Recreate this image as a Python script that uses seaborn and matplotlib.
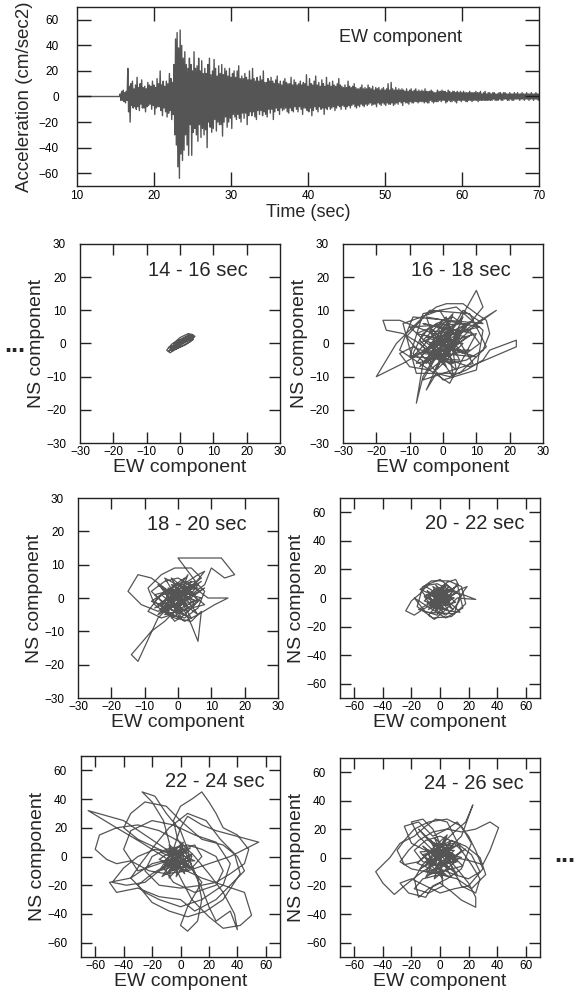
import numpy as np
import pandas as pd
import matplotlib
matplotlib.use('Agg')
import matplotlib.pyplot as plt
import seaborn as sns

# --- EW acceleration record, values every 0.1 s (one row = 1 s) ---
quiet_time = [10.0, 15.5]
onset_time = 15.6
sample_step = 0.1
ew_accel = [
    2, -3, 4, -3, 5, -4, 3, -5, 4, -3,
    22, -12, 8, -20, 10, -7, 12, -9, 6, -8,
    9, -10, 15, -8, 7, -11, 10, -6, 13, -9,
    7, -9, 8, -12, 6, -8, 11, -7, 9, -6,
    8, -10, 12, -7, 9, -14, 7, -9, 14, -8,
    10, -8, 20, -11, 9, -15, 12, -9, 8, -12,
    12, -16, 10, -13, 18, -11, 14, -18, 11, -14,
    25, -30, 45, -38, 50, -55, 38, -64, 52, -45,
    40, -50, 30, -42, 35, -30, 25, -38, 22, -46,
    30, -22, 25, -46, 20, -28, 35, -25, 22, -30,
    24, -35, 30, -22, 20, -32, 28, -25, 18, -30,
    22, -26, 18, -40, 25, -20, 30, -24, 17, -28,
    20, -25, 29, -18, 22, -27, 16, -20, 24, -22,
    18, -22, 25, -31, 17, -20, 22, -16, 20, -24,
    16, -20, 22, -17, 15, -25, 18, -14, 20, -16,
    15, -18, 20, -14, 24, -17, 14, -20, 16, -13,
    14, -17, 18, -13, 15, -22, 13, -15, 20, -12,
    13, -15, 22, -12, 14, -16, 12, -18, 15, -11,
    12, -14, 16, -11, 13, -15, 20, -12, 11, -14,
    11, -16, 14, -10, 12, -13, 15, -10, 12, -18,
    10, -12, 13, -9, 16, -11, 10, -14, 12, -9,
    9, -11, 12, -10, 14, -9, 11, -12, 10, -13,
    10, -9, 15, -11, 9, -12, 13, -8, 11, -10,
    9, -12, 10, -8, 12, -10, 9, -14, 11, -9,
    10, -9, 17, -11, 8, -12, 14, -9, 10, -15,
    9, -11, 12, -8, 16, -10, 9, -12, 11, -8,
    8, -10, 13, -9, 10, -14, 8, -9, 15, -10,
    9, -8, 11, -10, 8, -9, 12, -8, 9, -11,
    8, -9, 10, -7, 14, -8, 9, -10, 8, -7,
    7, -8, 9, -10, 7, -8, 12, -7, 8, -9,
    7, -7, 8, -6, 10, -8, 7, -9, 6, -7,
    6, -8, 7, -6, 9, -7, 6, -8, 7, -6,
    6, -7, 9, -6, 7, -5, 6, -7, 8, -6,
    5, -6, 7, -8, 6, -5, 7, -6, 5, -7,
    6, -5, 7, -6, 5, -7, 6, -5, 10, -6,
    5, -6, 11, -5, 6, -7, 5, -6, 7, -5,
    5, -6, 6, -4, 5, -5, 6, -7, 5, -4,
    4, -5, 6, -5, 4, -6, 5, -4, 6, -5,
    4, -5, 5, -4, 6, -4, 4, -5, 5, -4,
    4, -4, 5, -4, 4, -5, 6, -4, 4, -5,
    4, -5, 4, -3, 5, -4, 4, -5, 3, -4,
    3, -4, 5, -4, 4, -3, 4, -4, 5, -3,
    4, -3, 4, -5, 3, -4, 5, -3, 4, -4,
    3, -4, 4, -3, 4, -4, 3, -5, 4, -3,
    3, -3, 4, -4, 3, -3, 4, -3, 3, -4,
    3, -4, 3, -3, 4, -3, 3, -4, 3, -3,
    3, -3, 4, -3, 3, -4, 3, -3, 4, -3,
    2, -3, 3, -3, 4, -3, 2, -3, 3, -3,
    3, -3, 2, -3, 3, -2, 3, -3, 2, -3,
    2, -3, 3, -2, 3, -3, 2, -3, 3, -2,
    3, -2, 2, -3, 2, -3, 3, -2, 2, -3,
    2, -3, 3, -2, 2, -2, 3, -2, 2, -3,
    2, -2, 3, -2, 2, -3, 2, -2, 3, -2,
    2, -3, 2, -2, 3, -2, 2, -3, 2, -2,
    3, -2, 2, -3, 2,
]
seis_xticks = [10, 20, 30, 40, 50, 60, 70]
seis_yticks = [-60, -40, -20, 0, 20, 40, 60]

# --- particle motion (EW, NS) pairs for each 2 s window ---
pm_14_16 = [(0, 0), (1.5, 1), (3, 2.2), (4, 2.6), (3, 1.5), (1, 0.5), (-1, -0.8), (-2.5, -1.8),
            (-3.5, -2.4), (-2, -1), (0, 0.6), (2, 1.8), (3.5, 2.8), (2.5, 2.2), (0.5, 0.8),
            (-1.5, -0.6), (-3, -2), (-2.5, -2.2), (-1, -1.2), (1, 0.2), (3, 1.2), (4, 2),
            (2, 1.5), (-0.5, 0.2), (-2, -1.2), (-1, -0.5), (0.5, 0.5), (2, 1.2), (1, 0.3),
            (-1, -0.2), (-2.8, -1.5), (-1.5, -1.6), (0.5, -0.2), (2.5, 0.8), (3.8, 1.8),
            (2, 2), (0, 1), (-2, -0.5), (-3, -1.2), (-1, -0.8), (1, 0.8), (0, 0),
            (-2, 0), (0, 1.8), (2.5, 3), (4.5, 2.2), (3, 0.5), (0, -1), (-3, -2.8), (-4, -2),
            (-2.5, -0.2), (0, 1.2), (3, 2.8), (4, 1.2), (1.5, -0.5), (-1.5, -1.8),
            (-3.5, -1.2), (0, 0)]

pm_16_18 = [(0, 0), (-3, 3), (-8, 5), (-13, 7), (-18, 7), (-17, 4), (-12, 3), (-7, 0), (-3, -4),
            (2, -6), (7, -5), (12, -2), (14, 3), (13, 7), (10, 9), (6, 12), (1, 12), (-2, 11),
            (-6, 8), (-10, 4), (-14, 0), (-20, -10), (-12, -6), (-5, -2), (1, 3), (5, 7), (10, 16),
            (12, 11), (8, 6), (3, 2), (-2, -2), (-6, -6), (-8, -18), (-6, -10), (-3, -5), (1, -1),
            (5, 3), (16, 10), (9, 5), (4, 0), (-1, -5), (-5, -14), (-2, -9), (2, -10), (7, -8),
            (12, -5), (14, -2), (22, 1), (22, -1), (15, -4), (8, -7), (2, -5), (-4, -3), (-9, -1),
            (-13, -3), (-10, -7), (-4, -8), (1, -4), (4, 1), (7, 5), (3, 8), (-2, 6), (-6, 3),
            (-9, -3), (-5, -6), (-1, -2), (3, 3), (8, 4), (11, 0), (7, -3), (3, -1), (-1, 2),
            (-4, 5), (-7, 1), (-3, -3), (2, -2), (5, 2), (2, 4), (-2, 1), (-4, -1), (0, 0),
            (2, 3), (-3, -4), (4, 1), (-5, 2), (6, -3), (-2, 6), (3, -6), (-6, -2), (5, 4),
            (-1, -5), (7, 2), (-4, 4), (1, -7), (-7, 0), (4, 6), (-3, -2), (8, -2), (-5, -5),
            (2, 7), (-8, 3), (6, 0), (-2, -8), (3, 4), (-6, 6), (9, 3), (-4, -6), (0, 5), (5, -5),
            (-9, -4), (3, 9), (-1, -3), (10, -4), (-6, 1), (1, 8), (4, -8), (-10, 5), (7, 6),
            (-3, -9), (2, 0), (-7, -7), (6, 8), (0, -6), (-5, 8), (11, 5), (-2, 2), (4, -3),
            (-8, -6), (1, 6), (3, -10), (-4, 0), (9, 7), (-6, -3), (2, -4), (0, 0),
            (-10, -4), (-6, 9), (4, 11), (12, 4), (10, -8), (0, -11), (-11, 2), (-4, 10),
            (8, 9), (13, -1), (5, -9), (-8, -9), (-12, 6), (-1, 10), (9, -6), (-6, -11),
            (6, 10), (12, 6), (-9, 8), (-13, -2), (2, -12), (10, 3), (0, 0)]

pm_18_20 = [(0, 0), (-4, 3), (-8, 6), (-12, 7), (-15, 2), (-11, -2), (-6, -4), (-2, -1), (3, 3),
            (7, 6), (4, 9), (-1, 9), (-5, 7), (-9, 3), (-7, -2), (-3, -5), (2, -6), (6, -3), (8, 2),
            (5, 5), (1, 4), (-3, 1), (-5, -3), (-1, -6), (4, -7), (7, -4), (6, -13), (4, -8),
            (2, -4), (-2, -2), (-6, -6), (-12, -19), (-14, -17), (-8, -10), (-4, -7), (0, -3),
            (4, 1), (8, 4), (10, 9), (14, 6), (17, 7), (13, 12), (0, 12), (3, 8), (6, 4), (3, 0),
            (-1, -3), (-5, -1), (-8, 2), (-4, 5), (0, 6), (5, 3), (9, 0), (15, 0), (11, -2),
            (6, -5), (2, -7), (-3, -4), (-7, -1), (-4, 2), (0, 4), (4, 2), (6, -1), (3, -4),
            (-1, -2), (-3, 1), (-1, 4), (3, 5), (6, 7), (8, 8), (4, 3), (1, -1), (-2, -5),
            (-5, -6), (-9, -4), (-6, 0), (-2, 3), (2, 1), (5, -2), (2, -5), (-1, -7), (-4, -3),
            (-2, 0), (1, 2), (0, 0),
            (3, 2), (-4, -3), (5, -1), (-2, 4), (6, 3), (-5, 1), (2, -5), (-6, -2), (4, 5),
            (-1, -4), (7, 0), (-3, 3), (1, -6), (-7, 1), (5, 4), (-4, -5), (8, -2), (-2, 6),
            (3, -3), (-6, 4), (6, -5), (0, 3), (-5, -4), (7, 5), (-3, -1), (2, 6), (-8, -1),
            (4, -6), (-1, 2), (5, 1), (-4, 6), (1, -2), (8, 3), (-6, -5), (3, 7), (-2, -6),
            (6, -1), (-5, 3), (0, -4), (4, 4), (-7, -3), (2, 1), (0, 0)]

pm_20_22 = [(0, 0), (-5, 5), (-10, 8), (-14, 3), (-20, -2), (-24, -9), (-18, -12), (-12, -8),
            (-5, -4), (2, 1), (8, 6), (13, 9), (11, 13), (5, 11), (0, 7), (-6, 4), (-11, 1),
            (-7, -4), (-2, -9), (4, -12), (9, -8), (13, -3), (16, 4), (19, 8), (14, 6), (8, 2),
            (3, -2), (-3, -6), (-8, -12), (-4, -15), (2, -10), (7, -5), (12, 0), (25, -1), (17, 2),
            (10, 4), (4, 7), (-2, 10), (-8, 9), (-13, 5), (-9, 0), (-4, -3), (1, -6), (6, -9),
            (14, -10), (10, -6), (5, -2), (0, 3), (-4, 6), (-8, 2), (-5, -2), (0, -4), (5, 0),
            (9, 5), (5, 9), (0, 5), (-3, 1), (-6, -5), (-2, -7), (3, -3), (6, 2), (3, 5), (-1, 3),
            (-3, -1), (0, -3), (3, 0), (0, 0),
            (4, 3), (-5, -4), (7, -2), (-3, 6), (9, 5), (-8, 1), (3, -8), (-6, -6), (6, 8),
            (-2, -5), (10, 0), (-4, 4), (2, -10), (-10, 2), (8, 6), (-6, -7), (11, -3), (-3, 9),
            (5, -5), (-9, 5), (9, -8), (0, 4), (-7, -5), (10, 7), (-4, -2), (3, 9), (-11, -2),
            (6, -9), (-2, 3), (7, 1), (-5, 8), (1, -3), (12, 4), (-8, -8), (4, 10), (-3, -9),
            (8, -1), (-7, 4), (0, -6), (5, 5), (-9, -4), (3, 1), (0, 0),
            (-14, 6), (-6, 12), (6, 12), (15, 8), (18, -4), (8, -13), (-5, -14), (-16, -6),
            (-12, 8), (0, 13), (14, 2), (10, -11), (-10, -10), (-18, 0), (4, -14), (16, -7),
            (12, 10), (-2, -12), (-15, -8), (0, 0)]

pm_22_24 = [(0, 0), (-10, 5), (-25, 15), (-40, 25), (-65, 32), (-45, 20), (-28, 10), (-12, 0),
            (0, -8), (15, -15), (30, -20), (45, -25), (50, -41), (42, -48), (30, -50), (20, -42),
            (8, -30), (0, -15), (-5, -5), (-8, 10), (-12, 25), (-20, 38), (-27, 45), (-18, 42),
            (-10, 30), (0, 18), (5, 5), (8, -8), (15, -22), (20, -35), (25, -45), (35, -38),
            (40, -51), (38, -40), (30, -25), (20, -12), (10, 0), (0, 10), (-15, 18), (-30, 22),
            (-45, 20), (-57, 15), (-60, 5), (-52, -2), (-45, -5), (-35, -3), (-22, -10),
            (-10, -12), (5, -10), (20, -5), (35, 0), (45, 5), (55, 10), (40, 14), (25, 18),
            (15, 22), (5, 28), (0, 20), (-5, 5), (-15, -10), (-25, -18), (-38, -20), (-48, -18),
            (-40, -8), (-30, 0), (-18, 5), (-5, 2), (5, -5), (15, -18), (5, -35), (0, -48),
            (5, -52), (12, -45), (15, -30), (12, -15), (5, 0), (-2, 12), (-5, 25), (0, 35),
            (8, 40), (15, 45), (20, 38), (25, 30), (30, 20), (40, 15), (48, 5), (45, -5),
            (35, -12), (25, -18), (15, -20), (0, -22), (-15, -20), (-25, -10), (-20, 0),
            (-10, 5), (5, 8), (15, 5), (25, 0), (30, -10), (25, -20), (10, -25), (-5, -18),
            (-12, -8), (-8, 0), (0, 5), (10, 8), (15, 0), (8, -8), (0, -10), (-8, -5), (-5, 2),
            (2, 5), (8, 0), (5, -6), (-2, -5), (-6, 0), (-2, 4), (4, 2), (6, -3), (0, -4),
            (-3, 0), (0, 0),
            (-5, 5), (-12, -8), (3, -3), (-8, 6), (5, -10), (-15, -2), (0, 8), (-3, -14), (8, 2),
            (-10, -12), (4, 5), (-14, 3), (6, -6), (-6, -10), (2, 10), (-12, -4), (10, -3),
            (-4, 3), (-8, -15), (5, 0), (-2, -6), (-15, -10), (7, 6), (-6, 0), (3, -12),
            (-10, 4), (0, -8), (-5, -3), (9, -8), (-11, -6), (2, 2), (-3, -10), (-8, 8), (6, -2),
            (-13, -14), (0, 5), (4, -6), (-7, -4), (0, 0),
            (-20, -5), (-35, -15), (-50, -18), (-45, -25), (-30, -22), (-15, -28), (0, -30),
            (10, -38), (25, -30), (35, -20), (45, -10), (40, 0), (30, 8), (15, 12), (0, 25),
            (-10, 35), (-25, 38), (-35, 30), (-40, 20), (-30, 12), (-15, 5), (0, 0),
            (-30, -10), (-40, 5), (-35, 18), (-20, 25), (-5, 22), (10, 15), (25, 10), (35, -5),
            (30, -20), (15, -30), (0, -35), (-15, -30), (-25, -25), (-35, -15), (-28, -5),
            (-18, 8), (-8, 20), (5, 30), (18, 25), (28, 12), (38, 2), (42, -12), (30, -30),
            (18, -38), (5, -42), (-8, -38), (-20, -32), (-30, -20), (-20, -12), (-8, -5), (0, 0)]

pm_24_26 = [(0, 0), (-8, 8), (-15, 15), (-20, 25), (-12, 27), (-5, 20), (0, 10), (5, 0),
            (10, -10), (15, -20), (25, -25), (28, -15), (22, -5), (15, 5), (10, 15), (5, 25),
            (-3, 27), (-10, 22), (-18, 15), (-28, 10), (-35, 0), (-45, -10), (-40, -18),
            (-32, -26), (-25, -20), (-15, -12), (-5, -5), (5, 5), (15, 15), (23, 37), (18, 25),
            (10, 18), (2, 10), (-5, 2), (-12, -5), (-18, -15), (-15, -28), (-8, -22), (0, -18),
            (8, -24), (15, -30), (25, -35), (25, -28), (20, -18), (12, -8), (5, 0), (-2, 8),
            (-10, 15), (-15, 20), (-8, 12), (0, 5), (10, 0), (20, -2), (30, -5), (35, 5),
            (41, 21), (35, 25), (25, 20), (15, 18), (5, 20), (-5, 18), (-15, 12), (-22, 5),
            (-28, -3), (-20, -8), (-10, -10), (0, -8), (10, -12), (20, -15), (28, -10), (22, 2),
            (12, 10), (0, 15), (-10, 12), (-18, 5), (-12, -3), (-2, -5), (8, -3), (15, 5),
            (10, 10), (0, 8), (-8, 2), (-5, -5), (3, -6), (8, 2), (3, 5), (-3, 2), (0, 0),
            (5, 5), (-8, -6), (12, -3), (-5, 10), (10, 8), (-12, 2), (4, -12), (-10, -10),
            (8, 12), (-3, -8), (15, 0), (-6, 6), (2, -15), (-14, 4), (10, 5), (-8, -12), (16, -6),
            (-4, 14), (6, -8), (-12, 8), (12, -12), (0, 6), (-10, -5), (14, 10), (-5, -3),
            (4, 15), (-16, -4), (8, -14), (-2, 4), (10, 2), (-7, 12), (2, -4), (18, 6),
            (-10, -14), (5, 16), (-4, -15), (12, -2), (-10, 6), (0, -10), (8, 8), (-14, -8),
            (4, 2), (0, 0),
            (-20, 10), (-25, 22), (-15, 25), (-5, 15), (5, 20), (12, 25), (20, 15), (25, 5),
            (30, -8), (20, -20), (10, -22), (0, -25), (-10, -20), (-20, -15), (-28, -18),
            (-22, -25), (-10, -28), (-5, -20), (5, -15), (15, -8), (22, 10), (15, 22), (5, 27),
            (-8, 25), (-18, 20), (-25, 12), (-30, 5), (-25, -5), (-15, -3), (-5, 5), (8, 12),
            (18, 8), (28, 0), (32, -12), (22, -22), (12, -15), (0, -12), (-12, -15), (-18, -22),
            (-8, -25), (2, -20), (0, 0)]

window_labels = ['14 - 16 sec', '16 - 18 sec', '18 - 20 sec',
                 '20 - 22 sec', '22 - 24 sec', '24 - 26 sec']
window_data = [pm_14_16, pm_16_18, pm_18_20, pm_20_22, pm_22_24, pm_24_26]
window_limits = [30, 30, 30, 70, 70, 70]
ticks_30 = [-30, -20, -10, 0, 10, 20, 30]
ticks_70 = [-60, -40, -20, 0, 20, 40, 60]

LINE = '#555555'
AXC = '#222222'
W, H = 579, 996


def px_axes(fig, left, top, right, bottom):
    """Add axes from pixel box (origin top-left)."""
    ax = fig.add_axes([left / W, 1 - bottom / H, (right - left) / W, (bottom - top) / H])
    ax._px_size = (right - left, bottom - top)
    return ax


def style_axes(ax, xt, yt, fs, xpad, ypad, tick_px):
    """Inward ticks on all four sides, drawn as short segments."""
    ax.set_xticks(xt)
    ax.set_yticks(yt)
    ax.tick_params(axis='both', which='both', length=0, labelsize=fs,
                   top=False, right=False, labelcolor='black')
    ax.tick_params(axis='x', pad=xpad)
    ax.tick_params(axis='y', pad=ypad)
    wpx, hpx = ax._px_size
    fy = tick_px / hpx
    fx = tick_px / wpx
    x0, x1 = ax.get_xlim()
    y0, y1 = ax.get_ylim()
    xin = [v for v in xt if x0 < v < x1]
    yin = [v for v in yt if y0 < v < y1]
    kw = dict(colors=AXC, linewidth=1.0, clip_on=False, zorder=3)
    ax.vlines(xin, 0, fy, transform=ax.get_xaxis_transform(), **kw)
    ax.vlines(xin, 1 - fy, 1, transform=ax.get_xaxis_transform(), **kw)
    ax.hlines(yin, 0, fx, transform=ax.get_yaxis_transform(), **kw)
    ax.hlines(yin, 1 - fx, 1, transform=ax.get_yaxis_transform(), **kw)
    ax.set_xlim(x0, x1)
    ax.set_ylim(y0, y1)
    for s in ax.spines.values():
        s.set_visible(True)
        s.set_linewidth(1.0)
        s.set_color(AXC)


sns.set_style('ticks')
plt.rcParams['font.family'] = ['Liberation Sans', 'DejaVu Sans']

fig = plt.figure(figsize=(W / 100, H / 100), dpi=100)

# seismogram
t = np.concatenate([quiet_time, onset_time + sample_step * np.arange(len(ew_accel))])
a = np.concatenate([np.zeros(len(quiet_time)), np.array(ew_accel, dtype=float)])
seis = pd.DataFrame({'time': t, 'accel': a})
ax0 = px_axes(fig, 77, 7, 539, 186)
sns.lineplot(data=seis, x='time', y='accel', sort=False, estimator=None,
             color=LINE, lw=1.0, ax=ax0)
ax0.set_xlim(10, 70)
ax0.set_ylim(-70, 70)
style_axes(ax0, seis_xticks, seis_yticks, 8.5, 3, 13, 14)
ax0.set_xlabel('Time (sec)', fontsize=13, labelpad=1)
ax0.set_ylabel('Acceleration (cm/sec2)', fontsize=13.5, labelpad=4)
ax0.text(52, 46, 'EW component', fontsize=13, ha='center', va='center')

boxes = [(80, 244, 280, 443), (343, 244, 543, 443),
         (78, 498, 278, 698), (340, 498, 540, 698),
         (81, 756, 280, 957), (340, 758, 540, 957)]

for box, label, pts, lim in zip(boxes, window_labels, window_data, window_limits):
    ax = px_axes(fig, *box)
    df = pd.DataFrame(pts, columns=['EW', 'NS'])
    sns.lineplot(data=df, x='EW', y='NS', sort=False, estimator=None,
                 color=LINE, lw=0.9, ax=ax)
    ax.set_xlim(-lim, lim)
    ax.set_ylim(-lim, lim)
    if lim == 30:
        ticks = ticks_30
        ax.text(5.5, 22, label, fontsize=14.5, ha='center', va='center')
    else:
        ticks = ticks_70
        ax.text(24, 52, label, fontsize=14.5, ha='center', va='center')
    style_axes(ax, ticks, ticks, 8.5, 2, 10, 11)
    ax.set_xlabel('EW component', fontsize=14, labelpad=1)
    ax.set_ylabel('NS component', fontsize=14, labelpad=1)

fig.text(15 / W, 1 - 345 / H, '...', fontsize=18, fontweight='bold', ha='center', va='center')
fig.text(565 / W, 1 - 855 / H, '...', fontsize=18, fontweight='bold', ha='center', va='center')

fig.savefig('out.png', dpi=100)
plt.close(fig)
